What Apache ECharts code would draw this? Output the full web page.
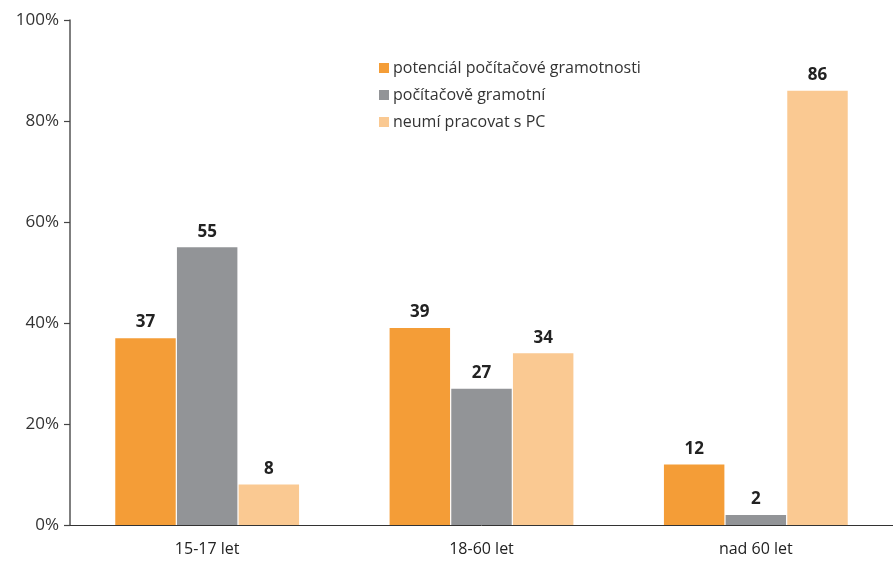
<!DOCTYPE html>
<html>
<head>
<meta charset="utf-8">
<script src="https://cdn.jsdelivr.net/npm/echarts@6/dist/echarts.min.js"></script>
<style>
  html, body { margin: 0; padding: 0; background: #fff; }
  #chart { width: 893px; height: 565px; }
</style>
</head>
<body>
<div id="chart"></div>
<script>
var categories = ["15-17 let", "18-60 let", "nad 60 let"];
var seriesNames = ["potenciál počítačové gramotnosti", "počítačově gramotní", "neumí pracovat s PC"];
var potencial = [37, 39, 12];
var gramotni = [55, 27, 2];
var neumi = [8, 34, 86];
var colors = ["#F49D37", "#929497", "#FAC992"];

var font = "'Open Sans', 'Noto Sans', sans-serif";

function makeSeries(name, values, color) {
  return {
    name: name,
    type: "bar",
    data: values,
    barGap: "2%",
    barCategoryGap: "33%",
    itemStyle: { color: color },
    label: {
      show: true,
      position: "top",
      distance: 7,
      color: "#222",
      fontSize: 17,
      fontWeight: "bold",
      fontFamily: font
    }
  };
}

var chart = echarts.init(document.getElementById("chart"));
chart.setOption({
  animation: false,
  backgroundColor: "#fff",
  color: colors,
  grid: { left: 70, width: 828, top: 20, bottom: 40, containLabel: false },
  legend: {
    orient: "vertical",
    left: 374,
    top: 55,
    itemWidth: 10,
    itemHeight: 10,
    itemGap: 11,
    icon: "rect",
    data: seriesNames,
    textStyle: { color: "#333", fontSize: 16, lineHeight: 16, fontFamily: font, padding: [0, 0, 0, -1] }
  },
  xAxis: {
    type: "category",
    data: categories,
    axisLine: { lineStyle: { color: "#333", width: 1 } },
    axisTick: { show: false },
    axisLabel: { color: "#222", fontSize: 16, margin: 16, fontFamily: font }
  },
  yAxis: {
    type: "value",
    min: 0,
    max: 100,
    interval: 20,
    axisLine: { show: true, lineStyle: { color: "#555", width: 1.5 } },
    axisTick: { show: true, length: 6, lineStyle: { color: "#444", width: 1.2 } },
    splitLine: { show: false },
    axisLabel: {
      formatter: "{value}%",
      color: "#333",
      fontSize: 17,
      margin: 11,
      fontFamily: font
    }
  },
  series: [
    makeSeries(seriesNames[0], potencial, colors[0]),
    makeSeries(seriesNames[1], gramotni, colors[1]),
    makeSeries(seriesNames[2], neumi, colors[2])
  ]
});
</script>
</body>
</html>
